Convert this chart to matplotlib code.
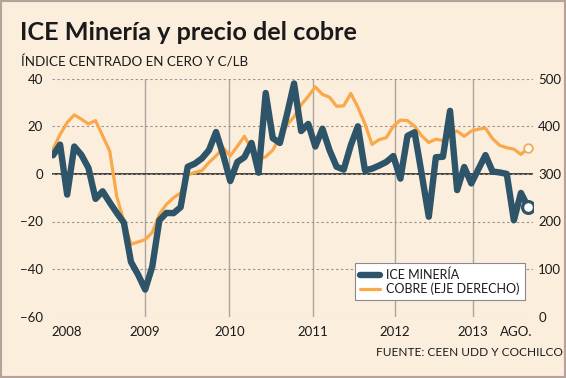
import matplotlib
matplotlib.use("Agg")
import matplotlib.pyplot as plt
from matplotlib.patches import Rectangle
import numpy as np

# ---------------- data (monthly, index 0 = first month shown) ----------------
ice_mineria = [7.8, 12.3, -8.7, 11.5, 8, 2.5, -10.5, -7.3, -12, -16.4,
               -20.5, -37, -42.3, -48.6, -39, -19.5, -16.4, -16.5, -14, 3,
               4.3, 6.5, 10, 17.6, 8, -3, 5, 7, 13, 0.5,
               34, 15, 13, 25, 38, 18, 21, 11.5, 19, 10,
               3, 1.8, 12, 20, 1.5, 2.2, 3.5, 5, 7.5, -2,
               16, 17.5, 0, -18, 7, 7.2, 26.5, -6.8, 2.9, -4,
               2, 7.9, 1, 0.6, 0, -19.5, -8, -13.9]

cobre = [352, 383, 408, 424, 415, 405, 412, 380, 348, 252,
         200, 152, 157, 162, 177, 215, 236, 250, 260, 298,
         303, 307, 324, 338, 355, 338, 358, 379, 352, 330,
         336, 350, 378, 403, 420, 445, 463, 483, 467, 461,
         442, 443, 469, 440, 405, 362, 372, 376, 400, 413,
         412, 400, 380, 366, 373, 370, 385, 390, 379, 390,
         394, 396, 374, 360, 355, 352, 341, 354]

x_labels = ["2008", "2009", "2010", "2011", "2012", "2013", "AGO."]
x_label_pos = [1.97, 12.93, 24.87, 36.67, 48.2, 59.2, 65.4]   # month index
year_lines = x_label_pos[1:-1]

left_ticks = [-60, -40, -20, 0, 20, 40]
right_ticks = [0, 100, 200, 300, 400, 500]

# ---------------- style ----------------
BG = "#FCEEDD"
DARK = "#2D5468"
ORANGE = "#F9A84A"
GRID = "#9E958E"
TXT = "#1A1A1A"
FONT = "Lato"

W, H = 566, 378
fig = plt.figure(figsize=(W / 100, H / 100), dpi=100)
fig.patch.set_facecolor(BG)

x = np.arange(len(ice_mineria))

ax = fig.add_axes([52 / W, 1 - 316.7 / H, (533 - 52) / W, (316.7 - 78.7) / H])
ax2 = ax.twinx()
ax.set_zorder(2)
ax2.set_zorder(1)
for a in (ax, ax2):
    a.patch.set_visible(False)
    for s in a.spines.values():
        s.set_visible(False)

ax.set_xlim(-0.14, 67.7)
ax.set_ylim(-60, 40)
ax2.set_ylim(0, 500)

# grid / reference lines on the lower axes
ax2.set_yticks(right_ticks)
ax2.grid(axis="y", color=GRID, linestyle=(0, (2.2, 2.2)), linewidth=0.8)
ax2.axhline(300, color="#333333", linewidth=1.3, zorder=1.5)
for xv in year_lines:
    ax2.axvline(xv, color="#ACA49E", linewidth=1.0, zorder=1.2)

# copper (right axis)
l_cobre, = ax2.plot(x, cobre, color=ORANGE, linewidth=2.3,
                    solid_joinstyle="round", solid_capstyle="round", zorder=3)
ax2.plot(x[-1], cobre[-1], marker="o", markersize=6.2, markerfacecolor="white",
         markeredgecolor=ORANGE, markeredgewidth=1.3, zorder=4)

# ICE (left axis, on top)
l_ice, = ax.plot(x, ice_mineria, color=DARK, linewidth=4.6,
                 solid_joinstyle="round", solid_capstyle="round", zorder=3)
ax.plot(x[-1], ice_mineria[-1], marker="o", markersize=8.5, markerfacecolor="white",
        markeredgecolor=DARK, markeredgewidth=2.3, zorder=4)

# ticks
ax.set_yticks(left_ticks)
ax.set_xticks(x_label_pos)
ax.set_xticklabels(x_labels)
ax.tick_params(axis="y", length=0, pad=6.5, labelsize=9.5, labelcolor=TXT)
ax.tick_params(axis="x", length=0, pad=7.0, labelsize=9.5, labelcolor=TXT)
ax2.tick_params(axis="y", length=0, pad=3.8, labelsize=9.5, labelcolor=TXT)
for lab in ax.get_xticklabels() + ax.get_yticklabels() + ax2.get_yticklabels():
    lab.set_family(FONT)

# legend
leg = ax.legend([l_ice, l_cobre], ["ICE MINERÍA", "COBRE (EJE DERECHO)"],
                loc="lower right", bbox_to_anchor=(525 / W, 1 - 300 / H),
                bbox_transform=fig.transFigure, borderaxespad=0,
                frameon=True, fancybox=False, framealpha=1,
                facecolor="white", edgecolor="#8A8A8A",
                borderpad=0.4, handlelength=1.6, handletextpad=0.5,
                labelspacing=0.12, prop={"family": FONT, "size": 9.0})
leg.get_frame().set_linewidth(0.8)
for t in leg.get_texts():
    t.set_color(TXT)

# texts
fig.text(20 / W, 1 - 40 / H, "ICE Minería y precio del cobre", fontsize=18.2,
         fontweight="bold", family=FONT, color=TXT, va="baseline", ha="left")
fig.text(21 / W, 1 - 66.5 / H, "ÍNDICE CENTRADO EN CERO Y C/LB", fontsize=9.6,
         family=FONT, color=TXT, va="baseline", ha="left")
fig.text(563 / W, 1 - 356 / H, "FUENTE: CEEN UDD Y COCHILCO", fontsize=8.6,
         family=FONT, color=TXT, va="baseline", ha="right")

# outer border
fig.patches.append(Rectangle((0, 0), 1, 1, transform=fig.transFigure, fill=False,
                             edgecolor="#B5A39B", linewidth=3.0, zorder=10))

fig.savefig("out.png", dpi=100, facecolor=BG)
